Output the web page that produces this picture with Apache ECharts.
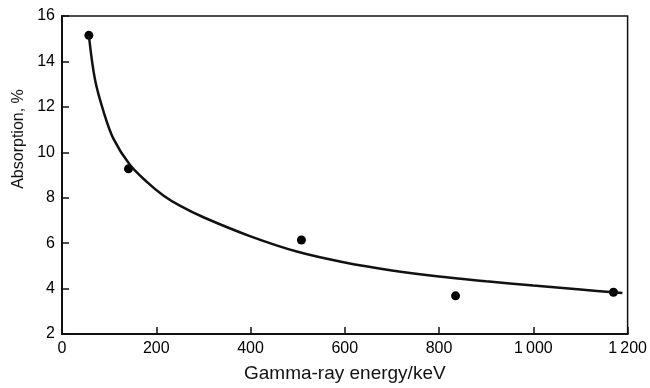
<!DOCTYPE html>
<html>
<head>
<meta charset="utf-8">
<script src="https://cdn.jsdelivr.net/npm/echarts@6/dist/echarts.min.js"></script>
<style>
  html, body { margin: 0; padding: 0; background: #fff; }
  #chart { width: 650px; height: 388px; }
</style>
</head>
<body>
<div id="chart"></div>
<script>
// measured points (energy keV, absorption %)
var pointEnergy = [57, 141, 508, 835, 1170]
var pointAbsorption = [15.15, 9.27, 6.14, 3.68, 3.84]

// fitted curve
var curveEnergy = [57, 70, 88, 109, 144, 180, 215, 250, 300, 400, 500, 600, 700, 800, 900, 1000, 1100, 1189]
var curveAbsorption = [15.15, 13.2, 11.8, 10.6, 9.45, 8.7, 8.1, 7.65, 7.14, 6.3, 5.62, 5.15, 4.8, 4.53, 4.32, 4.13, 3.96, 3.8]

var points = []
for (var i = 0; i < pointEnergy.length; i++) {
    points.push([pointEnergy[i], pointAbsorption[i]])
}
var curve = []
for (var j = 0; j < curveEnergy.length; j++) {
    curve.push([curveEnergy[j], curveAbsorption[j]])
}

var font = 'Liberation Sans, Arial, sans-serif'
var myChart = echarts.init(document.getElementById('chart'))
var option = {
    animation: false,
    backgroundColor: '#fff',
    grid: {
        left: 62, right: 22, top: 16, bottom: 51,
        show: true,
        borderColor: '#111',
        borderWidth: 1.5
    },
    xAxis: {
        type: 'value',
        min: 0, max: 1200, interval: 200,
        name: 'Gamma-ray energy/keV',
        nameLocation: 'middle',
        nameGap: 30,
        nameTextStyle: { color: '#111', fontSize: 19, fontFamily: font },
        axisLine: { lineStyle: { color: '#111', width: 2 } },
        axisTick: { inside: true, length: 7, lineStyle: { color: '#111', width: 1.5 } },
        axisLabel: {
            color: '#000', fontSize: 16, fontFamily: font, margin: 7,
            formatter: function (v) { return v >= 1000 ? '1\u2009' + String(v).slice(1) : v }
        },
        splitLine: { show: false }
    },
    yAxis: {
        type: 'value',
        min: 2, max: 16, interval: 2,
        name: 'Absorption, %',
        nameLocation: 'middle',
        nameGap: 34,
        nameTextStyle: { color: '#111', fontSize: 16, fontFamily: font, padding: [0, 0, 0, 72] },
        axisLine: { lineStyle: { color: '#111', width: 2 } },
        axisTick: { inside: true, length: 7, lineStyle: { color: '#111', width: 1.5 } },
        axisLabel: { color: '#000', fontSize: 16, fontFamily: font, margin: 7 },
        splitLine: { show: false }
    },
    series: [
        {
            type: 'line',
            data: curve,
            smooth: 0.35,
            showSymbol: false,
            lineStyle: { color: '#111', width: 2.5 }
        },
        {
            type: 'scatter',
            data: points,
            symbolSize: 9,
            itemStyle: { color: '#000', opacity: 1 }
        }
    ]
}
myChart.setOption(option)
</script>
</body>
</html>
